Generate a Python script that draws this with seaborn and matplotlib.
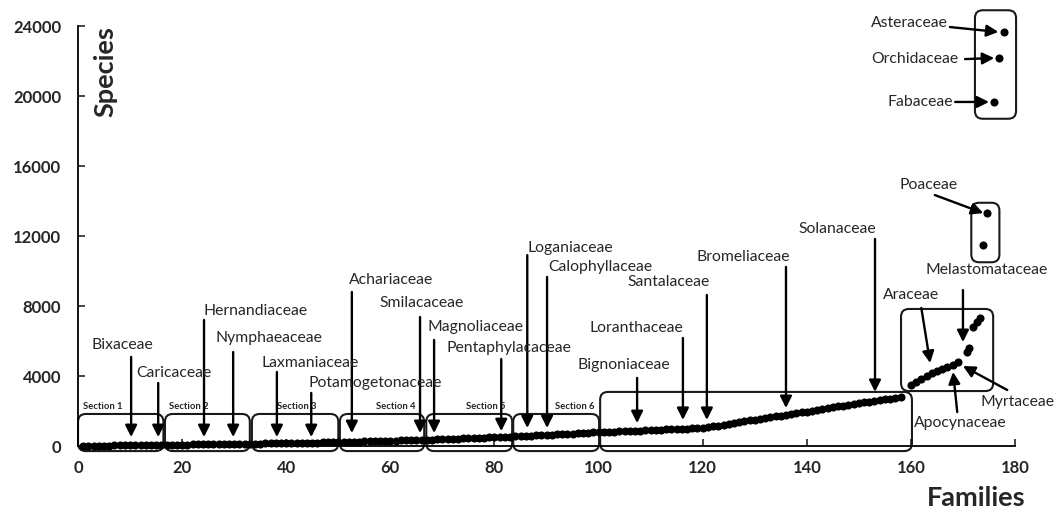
import numpy as np
import pandas as pd
import matplotlib
matplotlib.use("Agg")
import matplotlib.pyplot as plt
from matplotlib.patches import FancyBboxPatch
import seaborn as sns

# ---------------- data ----------------
# species per family, families ranked 1..158 (main curve)
main_species = [
    10, 14, 18, 21, 24, 27, 30, 33, 36, 39, 42, 46, 50, 54, 58, 62,
    66, 70, 74, 78, 82, 86, 90, 94, 98, 102, 106, 110, 114, 118, 122, 126, 130,
    135, 140, 145, 150, 155, 160, 165, 170, 176, 182, 188, 194, 200, 206, 212, 218, 225,
    232, 239, 246, 253, 260, 268, 276, 284, 292, 300, 308, 316, 325, 334, 343, 352,
    361, 370, 380, 390, 400, 410, 420, 430, 441, 452, 463, 474, 486, 498, 510, 522, 535,
    548, 561, 575, 589, 603, 617, 632, 647, 662, 677, 693, 709, 725, 741, 757, 773, 790,
    800, 812, 824, 836, 848, 860, 872, 884, 896, 908, 920, 932, 944, 956, 968, 980, 995, 1010, 1030, 1050,
    1080, 1120, 1165, 1210, 1260, 1310, 1360, 1410, 1460, 1510, 1555, 1600, 1645, 1690, 1735, 1780, 1825, 1870, 1915, 1960,
    2010, 2060, 2110, 2160, 2210, 2260, 2310, 2360, 2410, 2460, 2500, 2540, 2580, 2620, 2660, 2700, 2740, 2780,
]
main_rank = list(range(1, len(main_species) + 1))

# large families (positions)
big_rank = [160, 161, 162, 163, 164, 165, 166, 167, 168, 169,
            170.7, 171.2, 172.0, 172.7, 173.2,
            173.9, 174.6,
            176.0, 177.0, 177.9]
big_species = [3500, 3680, 3850, 4020, 4180, 4300, 4400, 4500, 4650, 4800,
               5400, 5600, 6800, 7100, 7300,
               11500, 13300,
               19650, 22150, 23650]

x_ticks = [0, 20, 40, 60, 80, 100, 120, 140, 160, 180]
y_ticks = [0, 4000, 8000, 12000, 16000, 20000, 24000]

section_names = ["Section 1", "Section 2", "Section 3", "Section 4", "Section 5", "Section 6"]
section_bounds = [(0, 16.4), (16.7, 33.0), (33.4, 50.0), (50.3, 66.5), (66.9, 83.4), (83.6, 100.1)]
section_label_x = [0.9, 17.5, 38.2, 57.3, 74.5, 91.6]

# vertical arrow annotations: label, text centre (x, y), arrow x, arrow top, arrow tip
v_labels = ["Bixaceae", "Caricaceae", "Hernandiaceae", "Nymphaeaceae", "Laxmaniaceae",
            "Potamogetonaceae", "Achariaceae", "Smilacaceae", "Magnoliaceae",
            "Pentaphylacaceae", "Loganiaceae", "Calophyllaceae", "Bignoniaceae",
            "Loranthaceae", "Santalaceae", "Bromeliaceae", "Solanaceae"]
v_text_x = [8.45, 18.4, 34.1, 36.7, 44.5, 57.1, 60.1, 66.0, 76.3, 82.8, 94.5, 100.3,
            104.8, 107.2, 113.5, 127.8, 145.9]
v_text_y = [5770, 4170, 7710, 6170, 4740, 3600, 9490, 8170, 6800, 5600, 11310, 10230,
            4630, 6740, 9370, 10800, 12400]
v_arrow_x = [10.2, 15.4, 24.2, 29.8, 38.2, 44.8, 52.6, 65.7, 68.4, 81.3, 86.3, 90.1,
             107.4, 116.2, 120.8, 136.0, 153.1]
v_arrow_top = [5090, 3600, 7200, 5370, 4230, 3030, 8800, 7370, 6060, 4970, 10910, 9660,
               3890, 6170, 8630, 10230, 11830]
v_arrow_tip = [510, 510, 510, 510, 510, 510, 740, 740, 740, 850, 1030, 1030,
               1310, 1490, 1490, 2170, 3090]

# slanted arrow annotations: label, text centre, arrow start, arrow end
s_labels = ["Araceae", "Melastomataceae", "Myrtaceae", "Apocynaceae",
            "Asteraceae", "Orchidaceae", "Fabaceae", "Poaceae"]
s_text = [(160.1, 8630), (174.6, 10060), (180.4, 2510), (169.4, 1310),
          (159.7, 24170), (160.8, 22110), (161.8, 19660), (163.4, 14910)]
s_from = [(162.0, 7890), (170.0, 8910), (178.5, 3200), (168.9, 1940),
          (167.5, 23940), (170.4, 22110), (168.5, 19660), (164.6, 14340)]
s_to = [(163.7, 4740), (170.0, 5940), (170.0, 4570), (168.1, 4230),
        (176.8, 23660), (176.0, 22170), (175.0, 19660), (173.9, 13310)]

# rounded boxes (x0, x1, y0, y1)
other_boxes = [(100.3, 160.2, -290, 3090), (158.1, 175.8, 3140, 7830),
               (171.6, 177.0, 10500, 13900), (172.3, 180.2, 18700, 24900)]
section_y = (-290, 1830)

# ---------------- plot ----------------
sns.set_style("ticks")
plt.rcParams['font.family'] = ['Lato', 'DejaVu Sans']

fig = plt.figure(figsize=(10.56, 5.13), dpi=100)
ax = fig.add_axes([0.0739, 0.1306, 0.8873, 0.8187])

df = pd.DataFrame({"Families": main_rank + big_rank,
                   "Species": main_species + big_species})
sns.scatterplot(data=df, x="Families", y="Species", ax=ax, color="black",
                s=34, edgecolor="black", linewidth=0, zorder=3, clip_on=False)

ax.set_xlim(0, 180)
ax.set_ylim(0, 24000)
ax.set_xticks(x_ticks)
ax.set_yticks(y_ticks)
ax.set_xticklabels([str(v) for v in x_ticks], fontsize=12, fontweight="bold")
ax.set_yticklabels([str(v) for v in y_ticks], fontsize=12, fontweight="bold")
ax.tick_params(axis="x", direction="in", length=5, width=1.2, pad=10)
ax.tick_params(axis="y", direction="in", length=5, width=1.2, pad=12)
ax.set_xlabel("")
ax.set_ylabel("")
for s in ["top", "right"]:
    ax.spines[s].set_visible(False)
for s in ["left", "bottom"]:
    ax.spines[s].set_linewidth(1.3)
    ax.spines[s].set_color("black")

# aspect factor for round corners: pixels per x unit / pixels per y unit
aspect = (0.8873 * 1056 / 180) / (0.8187 * 513 / 24000)


def rbox(x0, x1, y0, y1):
    p = FancyBboxPatch((x0, y0), x1 - x0, y1 - y0,
                       boxstyle="round,pad=0,rounding_size=1.5",
                       mutation_aspect=aspect, fill=False, lw=1.5,
                       edgecolor="#1a1a1a", clip_on=False, zorder=2)
    ax.add_patch(p)


for (x0, x1), name, lx in zip(section_bounds, section_names, section_label_x):
    rbox(x0, x1, section_y[0], section_y[1])
    ax.text(lx, 2230, name, fontsize=6.8, fontweight="bold", ha="left",
            va="center")
for b in other_boxes:
    rbox(*b)

arrow_kw = dict(arrowstyle="-|>,head_length=0.7,head_width=0.35", lw=1.7,
                color="black", shrinkA=0, shrinkB=0, mutation_scale=10)

for lab, tx, ty, axx, top, tip in zip(v_labels, v_text_x, v_text_y, v_arrow_x,
                                      v_arrow_top, v_arrow_tip):
    ax.text(tx, ty, lab, fontsize=11.3, ha="center", va="center", zorder=5)
    ax.annotate("", xy=(axx, tip), xytext=(axx, top), arrowprops=arrow_kw,
                zorder=4)

for lab, t, f, e in zip(s_labels, s_text, s_from, s_to):
    ax.text(t[0], t[1], lab, fontsize=11.3, ha="center", va="center", zorder=5,
            clip_on=False)
    ax.annotate("", xy=e, xytext=f, arrowprops=arrow_kw, zorder=4,
                annotation_clip=False)

ax.text(5.2, 21370, "Species", rotation=90, fontsize=19.5, fontweight="bold",
        ha="center", va="center")
ax.text(172.5, -2970, "Families", fontsize=19.5, fontweight="bold",
        ha="center", va="center", clip_on=False)

fig.savefig("out.png", dpi=100)
